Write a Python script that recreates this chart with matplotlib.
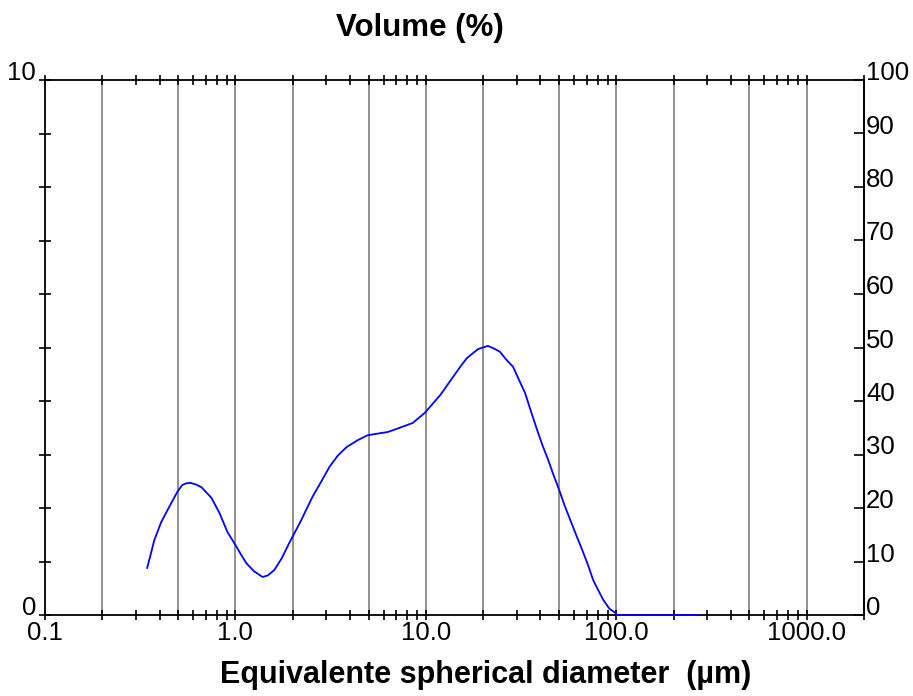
import numpy as np
import matplotlib.pyplot as plt
import matplotlib.transforms as mtransforms
plt.switch_backend('agg')

plt.rcParams['font.family'] = ['Liberation Sans', 'DejaVu Sans']

# particle size distribution
diameter = [0.344, 0.360, 0.375, 0.408, 0.449, 0.495, 0.526, 0.550, 0.580, 0.620,
            0.662, 0.700, 0.748, 0.824, 0.908, 1.00, 1.07, 1.14, 1.25, 1.39,
            1.48, 1.60, 1.75, 1.92, 2.20, 2.54, 2.85, 3.12, 3.45, 3.84,
            4.40, 4.95, 5.80, 6.30, 7.04, 8.54, 9.88, 11.9, 13.9, 15.1,
            16.4, 18.8, 19.9, 21.2, 22.8, 24.5, 26.5, 28.7, 30.8, 33.2,
            35.7, 38.4, 41.0, 43.9, 46.8, 50.1, 53.5, 57.3, 61.5, 66.2,
            70.8, 75.7, 80.0, 85.5, 92.0, 98.9, 100.0, 150.0, 200.0, 270.0]
volume = [0.88, 1.15, 1.40, 1.74, 2.02, 2.30, 2.43, 2.46, 2.47, 2.44,
          2.39, 2.30, 2.19, 1.91, 1.55, 1.31, 1.13, 0.97, 0.82, 0.71,
          0.74, 0.84, 1.06, 1.35, 1.75, 2.21, 2.52, 2.77, 2.98, 3.14,
          3.27, 3.36, 3.40, 3.42, 3.48, 3.59, 3.78, 4.11, 4.45, 4.63,
          4.80, 4.97, 5.00, 5.03, 4.98, 4.92, 4.77, 4.64, 4.40, 4.15,
          3.80, 3.46, 3.17, 2.90, 2.62, 2.34, 2.05, 1.78, 1.50, 1.22,
          0.95, 0.65, 0.48, 0.28, 0.12, 0.04, 0.0, 0.0, 0.0, 0.0]

grid_x = [0.2, 0.5, 1, 2, 5, 10, 20, 50, 100, 200, 500, 1000]
x_major = [0.1, 1, 10, 100, 1000]
x_labels = ['0.1', '1.0', '10.0', '100.0', '1000.0']
left_labels = {0: '0', 10: '10'}
right_ticks = list(range(0, 101, 10))

W, H = 913, 696
fig = plt.figure(figsize=(W / 100, H / 100), dpi=100)
ax = fig.add_axes([45 / W, (H - 615) / H, 819 / W, 535 / H])

ax.set_xscale('log')
ax.set_xlim(0.1, 2000)
ax.set_ylim(0, 10)

for g in grid_x:
    ax.axvline(g, color='#888888', lw=1.3, zorder=1)

for s in ax.spines.values():
    s.set_linewidth(1.3)
    s.set_color('black')

# x ticks: minor everywhere, labels only at decades
minor = [m * 10.0 ** e for e in range(-1, 4) for m in range(1, 10)]
minor = [v for v in minor if v <= 2000]
ax.set_xticks(minor, minor=True)
ax.set_xticks(x_major)
ax.set_xticklabels(x_labels, fontsize=18.5)
ax.tick_params(axis='x', which='both', direction='inout', length=7, width=1.2,
               top=True, bottom=True, pad=1)

ax.set_yticks(range(0, 11))
ax.set_yticklabels([])
ax.tick_params(axis='y', which='both', direction='inout', length=8, width=1.2,
               left=True, right=False)

# left labels sit on their tick, baseline aligned
off_l = mtransforms.offset_copy(ax.transData, fig=fig, x=-9, y=0, units='dots')
for v, lab in left_labels.items():
    ax.text(0.1, v, lab, transform=off_l, ha='right', va='baseline', fontsize=18.5)

# right-hand scale 0-100
ax2 = ax.twinx()
ax2.set_ylim(0, 100)
ax2.set_yticks(right_ticks)
ax2.set_yticklabels([])
ax2.tick_params(axis='y', direction='in', length=7, width=1.2)
for k in ['top', 'bottom', 'left']:
    ax2.spines[k].set_visible(False)
ax2.spines['right'].set_linewidth(1.3)
trans_r = mtransforms.blended_transform_factory(ax2.transAxes, ax2.transData)
off_r = mtransforms.offset_copy(trans_r, fig=fig, x=2, y=0, units='dots')
for v in right_ticks:
    ax2.text(1.0, v, str(v), transform=off_r, ha='left', va='baseline', fontsize=18.5)

# curve drawn last so the zero tail sits on top of the bottom spine
ax2.plot(diameter, [v * 10 for v in volume], color='#0000ff', lw=1.3,
         zorder=5, clip_on=False)
ax2.set_xlim(0.1, 2000)

fig.text(420 / W, 1 - 28 / H, 'Volume (%)', ha='center', va='center',
         fontsize=22.5, fontweight='bold')
fig.text(486 / W, 1 - 675 / H, 'Equivalente spherical diameter  (\u00b5m)',
         ha='center', va='center', fontsize=22, fontweight='bold')

fig.savefig('out.png', dpi=100)
